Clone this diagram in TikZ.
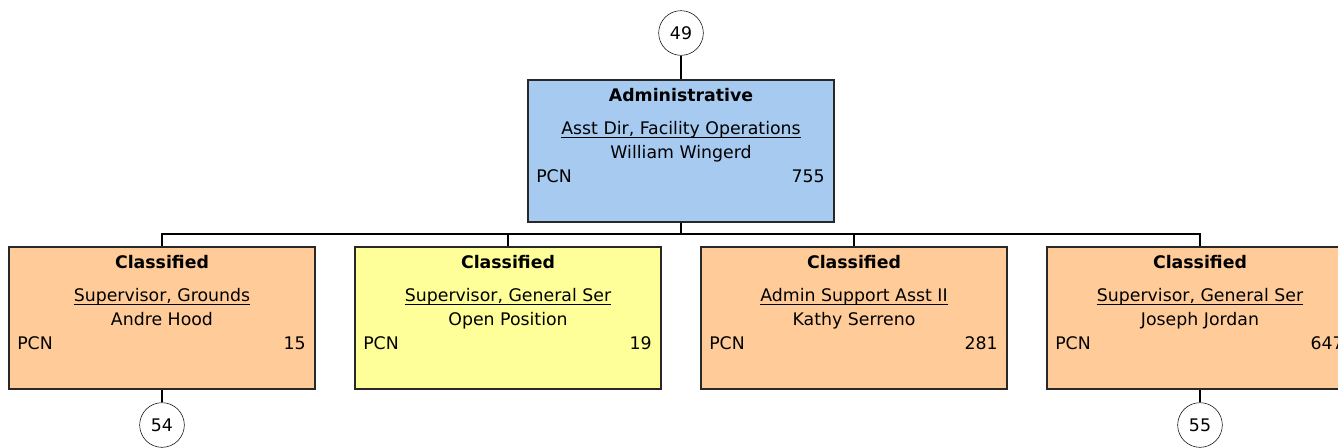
\documentclass[tikz,border=0pt]{standalone}
\usepackage{fontspec}
\setmainfont{DejaVu Sans}
\usepackage{tikz}
\usetikzlibrary{positioning,calc}
\definecolor{adminfill}{RGB}{166,202,240}
\definecolor{classfill}{RGB}{255,204,153}
\definecolor{openfill}{RGB}{255,255,153}
\definecolor{edge}{RGB}{40,40,40}
\tikzset{
  posbox/.style={draw=edge, line width=1.5pt, minimum width=229.5pt,
                 minimum height=106.5pt, inner sep=0pt},
  hd/.style={font=\fontsize{13}{15}\bfseries, inner sep=0pt, anchor=base},
  txt/.style={font=\fontsize{13}{15}\selectfont, inner sep=0pt, anchor=base},
  uline/.style={line width=0.8pt, black},
  refcirc/.style={draw, circle, thin, minimum size=33.5pt, inner sep=0pt,
                  font=\fontsize{13}{15}\selectfont},
  link/.style={black, line width=1.5pt},
}

\begin{document}
\begin{tikzpicture}[x=0.75pt, y=-0.75pt]
    \useasboundingbox (0,0) rectangle (1338,447);
    % top position
    \node[refcirc] (c49) at (681,33) {49};
    \node[posbox, fill=adminfill] (adm) at (681,150.5) {};
    \node[hd] (adm-h) at ($(adm.north)+(0,22.5)$) {Administrative};
    \node[txt] (adm-t) at ($(adm.north)+(0,56)$) {Asst Dir, Facility Operations};
    \node[txt] (adm-n) at ($(adm.north)+(0,79.5)$) {William Wingerd};
    \node[txt, anchor=base west] (adm-p) at ($(adm.north west)+(9,103.5)$) {PCN};
    \node[txt, anchor=base east] (adm-k) at ($(adm.north east)+(-10,103.5)$) {755};
    \draw[uline] ($(adm-t.base west)+(0,3)$) -- ($(adm-t.base east)+(0,3)$);
    \draw[link] (c49) -- (adm.north);
    % reports
    \foreach \nm/\xc/\col/\ttl/\who/\num in {
        gr/162/classfill/{Supervisor, Grounds}/Andre Hood/15,
        gs/508/openfill/{Supervisor, General Ser}/Open Position/19,
        as/854/classfill/Admin Support Asst II/Kathy Serreno/281,
        jj/1200/classfill/{Supervisor, General Ser}/Joseph Jordan/647}{
      \node[posbox, fill=\col] (\nm) at (\xc,318) {};
      \node[hd] (\nm-h) at ($(\nm.north)+(0,22)$) {Classified};
      \node[txt] (\nm-t) at ($(\nm.north)+(0,55.5)$) {\ttl};
      \node[txt] (\nm-n) at ($(\nm.north)+(0,79.5)$) {\who};
      \node[txt, anchor=base west] (\nm-p) at ($(\nm.north west)+(9,103)$) {PCN};
      \node[txt, anchor=base east] (\nm-k) at ($(\nm.north east)+(-10,103)$) {\num};
      \draw[uline] ($(\nm-t.base west)+(0,3)$) -- ($(\nm-t.base east)+(0,3)$);
      \draw[link] (adm.south) -- ++(0,11) -| (\nm.north);
    }
    \node[refcirc] (c54) at (162,425) {54};
    \node[refcirc] (c55) at (1200,425) {55};
    \draw[link] (gr.south) -- (c54);
    \draw[link] (jj.south) -- (c55);
  \end{tikzpicture}
\end{document}
